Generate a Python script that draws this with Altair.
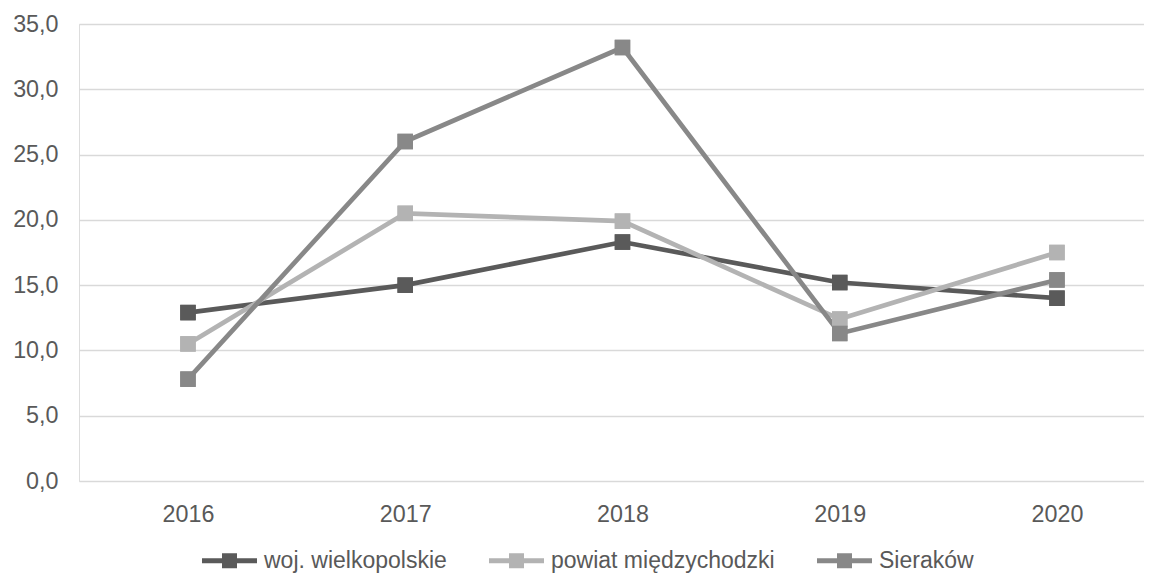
import altair as alt
import pandas as pd

years = ["2016", "2017", "2018", "2019", "2020"]
series_names = ["woj. wielkopolskie", "powiat międzychodzki", "Sieraków"]
woj = [12.9, 15.0, 18.3, 15.2, 14.0]
powiat = [10.5, 20.5, 19.9, 12.4, 17.5]
sierakow = [7.8, 26.0, 33.2, 11.3, 15.4]
colors = ["#5a5a5a", "#b3b3b3", "#888888"]
y_ticks = [0, 5, 10, 15, 20, 25, 30, 35]

rows = []
for name, vals in zip(series_names, [woj, powiat, sierakow]):
    for yr, v in zip(years, vals):
        rows.append({"rok": yr, "wartosc": v, "seria": name})
df = pd.DataFrame(rows)

FONT = "Liberation Sans"
FS = 23.3
x_enc = alt.X("rok:O", sort=years,
              scale=alt.Scale(type="point", padding=0.4511, align=0.556),
              axis=alt.Axis(title=None, labelAngle=0, domain=False, ticks=False, grid=False,
                            labelFontSize=FS, labelColor="#595959", labelFont=FONT,
                            labelPadding=22))
y_enc = alt.Y("wartosc:Q", scale=alt.Scale(domain=[0, 35], nice=False),
              axis=alt.Axis(title=None, values=y_ticks, domain=False, ticks=False,
                            labelExpr="replace(format(datum.value, '.1f'), '.', ',')",
                            labelFontSize=FS, labelColor="#595959", labelFont=FONT,
                            labelPadding=21, gridColor="#d9d9d9", gridWidth=1.5))

sym_path = "M-3.667,-0.32L3.667,-0.32L3.667,0.32L-3.667,0.32Z M-1,-1L1,-1L1,1L-1,1Z"
legend = alt.Legend(title=None, orient="none", direction="horizontal",
                    legendX=119, legendY=525,
                    symbolType=sym_path, symbolSize=225,
                    symbolStrokeWidth=0, symbolOffset=20,
                    labelOffset=23, columnPadding=38, labelLimit=0,
                    labelFontSize=23, labelColor="#595959",
                    labelFont=FONT)
color_enc = alt.Color("seria:N", scale=alt.Scale(domain=series_names, range=colors),
                      sort=series_names, legend=legend)

squares = alt.Chart(df).mark_square(size=240, filled=True, opacity=1).encode(
    x=x_enc, y=y_enc, color=color_enc,
)
lines = alt.Chart(df).mark_line(strokeWidth=4.7).encode(
    x=x_enc, y=y_enc, color=color_enc,
)

chart = alt.layer(squares, lines, squares).properties(
    width=1065, height=457,
    autosize=alt.AutoSizeParams(type="none"),
    padding={"left": 71, "top": 16, "right": 0, "bottom": 92},
).configure_view(stroke=None).configure(background="white")

chart.save("out.html", embed_options={"renderer": "svg", "actions": False})
